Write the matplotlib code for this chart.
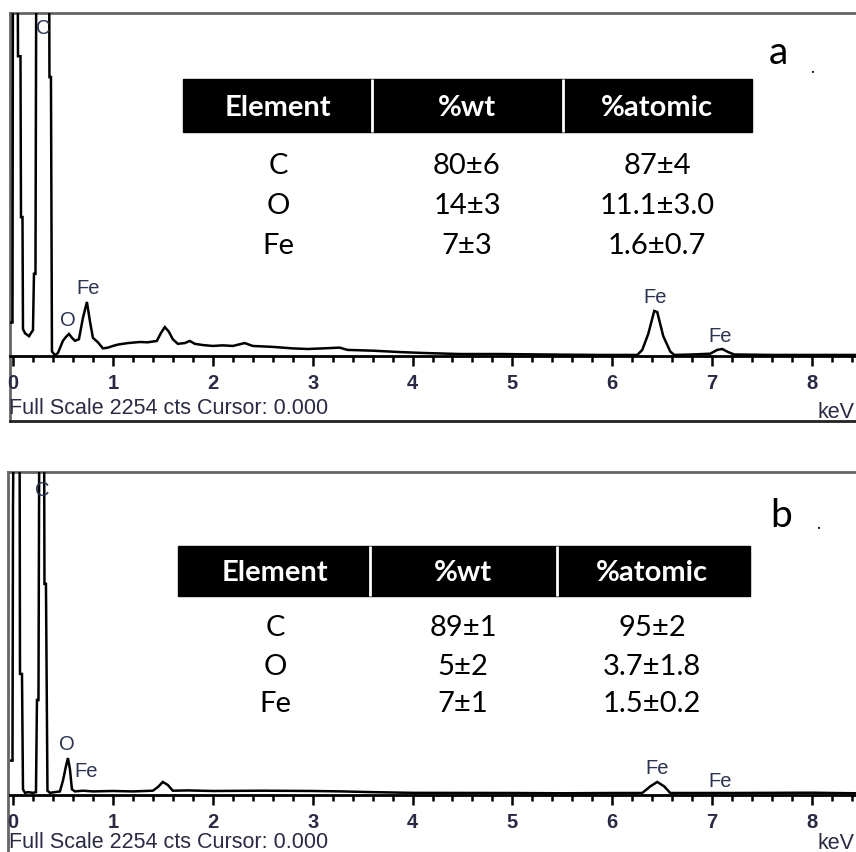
import matplotlib
matplotlib.use("Agg")
import matplotlib.pyplot as plt
from matplotlib.patches import Rectangle
from matplotlib.ticker import MultipleLocator

# spectrum a (keV, counts)
energy_a = [-0.03, -0.005, 0.0, 0.045, 0.05, 0.075, 0.08, 0.095, 0.10, 0.12, 0.16, 0.20, 0.21,
            0.225, 0.235, 0.36, 0.365, 0.38, 0.39, 0.42, 0.45, 0.50, 0.53, 0.56, 0.59, 0.62,
            0.66, 0.70, 0.74, 0.77, 0.80, 0.85, 0.90, 0.95, 1.0, 1.05, 1.15, 1.27, 1.35, 1.44,
            1.48, 1.52, 1.56, 1.6, 1.65, 1.72, 1.77, 1.82, 1.9, 2.0, 2.1, 2.2, 2.32, 2.4, 2.6,
            2.8, 2.95, 3.1, 3.27, 3.35, 3.6, 3.87, 4.1, 4.47, 4.87, 5.3, 5.87, 6.25, 6.3, 6.36,
            6.42, 6.45, 6.51, 6.58, 6.62, 6.8, 6.98, 7.05, 7.1, 7.16, 7.22, 7.6, 8.0, 8.44]
counts_a = [220, 220, 3000, 3000, 1970, 1970, 913, 913, 177, 150, 130, 170, 540,
            540, 3000, 3000, 1833, 1833, 30, 5, 20, 100, 125, 145, 120, 100,
            110, 250, 355, 230, 120, 90, 50, 55, 66, 75, 85, 92, 90, 99,
            150, 190, 160, 110, 80, 85, 99, 80, 72, 66, 70, 66, 85, 66, 60,
            50, 46, 50, 55, 40, 35, 26, 20, 13, 13, 10, 7, 7, 40, 145,
            296, 289, 131, 30, 7, 10, 15, 40, 46, 26, 10, 7, 7, 7]

# spectrum b
energy_b = [-0.03, -0.005, 0.0, 0.01, 0.065, 0.07, 0.09, 0.10, 0.12, 0.15, 0.20, 0.23, 0.24,
            0.255, 0.265, 0.31, 0.315, 0.33, 0.345, 0.37, 0.42, 0.47, 0.50, 0.53, 0.55, 0.57,
            0.59, 0.62, 0.7, 0.8, 1.0, 1.2, 1.4, 1.45, 1.5, 1.55, 1.6, 1.75, 2.0, 2.5, 3.0,
            3.3, 3.6, 4.0, 5.0, 5.5, 6.0, 6.3, 6.38, 6.45, 6.52, 6.58, 7.0, 7.2, 8.0, 8.2, 8.44]
counts_b = [240, 240, 2010, 3000, 3000, 845, 845, 40, 15, 20, 15, 20, 663,
            663, 3000, 3000, 1473, 1473, 30, 15, 20, 25, 100, 200, 258, 180,
            40, 25, 30, 25, 28, 25, 30, 55, 91, 70, 30, 32, 28, 30, 28,
            25, 20, 15, 14, 12, 14, 14, 60, 91, 60, 14, 14, 14, 16, 14, 12]

full_scale = 2254
headers = ["Element", "%wt", "%atomic"]
elements = ["C", "O", "Fe"]
wt_a = ["80\u00b16", "14\u00b13", "7\u00b13"]
atomic_a = ["87\u00b14", "11.1\u00b13.0", "1.6\u00b10.7"]
wt_b = ["89\u00b11", "5\u00b12", "7\u00b11"]
atomic_b = ["95\u00b12", "3.7\u00b11.8", "1.5\u00b10.2"]

W, H = 856, 853
fig = plt.figure(figsize=(W / 100, H / 100), dpi=100)


def px_box(left, top, right, bottom):
    return [left / W, 1 - bottom / H, (right - left) / W, (bottom - top) / H]


def draw_panel(frame, spec, energy, counts):
    fr = fig.add_axes(px_box(*frame))
    fr.set_xticks([])
    fr.set_yticks([])
    fr.spines['right'].set_visible(False)
    for s in ['left', 'top']:
        fr.spines[s].set_color('#666666')
        fr.spines[s].set_linewidth(2)
    fr.spines['bottom'].set_color('#222222')
    fr.spines['bottom'].set_linewidth(2)

    ax = fig.add_axes(px_box(*spec))
    ax.patch.set_alpha(0)
    ax.plot(energy, counts, color='black', lw=1.8, solid_joinstyle='miter')
    ax.set_xlim(-0.03, 8.44)
    ax.set_ylim(0, full_scale)
    for s in ['left', 'top', 'right']:
        ax.spines[s].set_visible(False)
    ax.spines['bottom'].set_linewidth(2)
    ax.set_yticks([])
    ax.xaxis.set_major_locator(MultipleLocator(1))
    ax.xaxis.set_minor_locator(MultipleLocator(0.2))
    ax.tick_params(axis='x', which='major', direction='out', length=7, width=1.8,
                   pad=5.5, labelsize=14.5, labelcolor='#2a2a45')
    ax.tick_params(axis='x', which='minor', direction='out', length=4.5, width=1.8)
    for lab in ax.get_xticklabels():
        lab.set_family('Liberation Sans')
        lab.set_fontweight('bold')
    return ax


draw_panel((10, 14, 880, 422), (10, 14, 856, 357), energy_a, counts_a)
draw_panel((8, 473, 880, 870), (10, 473, 856, 796), energy_b, counts_b)

ov = fig.add_axes([0, 0, 1, 1])
ov.set_xlim(0, W)
ov.set_ylim(H, 0)
ov.axis('off')
ov.patch.set_alpha(0)

lab_kw = dict(family='Liberation Sans', fontsize=14.5, color='#2b3350',
              ha='center', va='center')
# peak labels, panel a
ov.text(43, 28, "C", **lab_kw)
ov.text(68, 320, "O", **lab_kw)
ov.text(88, 288, "Fe", **lab_kw)
ov.text(655, 297, "Fe", **lab_kw)
ov.text(720, 336, "Fe", **lab_kw)
# peak labels, panel b
ov.text(42, 490, "C", **lab_kw)
ov.text(67, 745, "O", **lab_kw)
ov.text(86, 772, "Fe", **lab_kw)
ov.text(657, 769, "Fe", **lab_kw)
ov.text(720, 782, "Fe", **lab_kw)

info_kw = dict(family='Liberation Sans', fontsize=15.5, color='#2a2a45', va='center')
ov.text(9, 409, "Full Scale 2254 cts Cursor: 0.000", ha='left', **info_kw)
ov.text(855, 413, "keV", ha='right', **info_kw)
ov.text(9, 843, "Full Scale 2254 cts Cursor: 0.000", ha='left', **info_kw)
ov.text(855, 844, "keV", ha='right', **info_kw)

ov.text(778, 53, "a", family='Lato', fontsize=28, ha='center', va='center')
ov.text(812, 68, ".", family='Lato', fontsize=12, ha='center', va='center')
ov.text(781, 516, "b", family='Lato', fontsize=28, ha='center', va='center')
ov.text(818, 524, ".", family='Lato', fontsize=12, ha='center', va='center')


def draw_table(x0, x1, seps, top, bottom, cols, rows_y, wt, atomic):
    ov.add_patch(Rectangle((x0, top), x1 - x0, bottom - top, color='black', zorder=2))
    ov.vlines(seps, top, bottom, color='white', lw=2, zorder=3)
    for cx, h in zip(cols, headers):
        ov.text(cx, (top + bottom) / 2 + 1, h, family='Lato', fontweight='bold', fontsize=21,
                color='white', ha='center', va='center', zorder=4)
    for y, el, w, at in zip(rows_y, elements, wt, atomic):
        for cx, t in zip(cols, [el, w, at]):
            ov.text(cx, y, t, family='Lato', fontsize=21, color='black',
                    ha='center', va='center')


draw_table(183, 752, [372, 563], 80, 133, [278, 467, 657], [166, 206, 246], wt_a, atomic_a)
draw_table(178, 750, [370, 557], 547, 597, [275, 463, 652], [628, 667, 704], wt_b, atomic_b)

fig.savefig("out.png", dpi=100)
